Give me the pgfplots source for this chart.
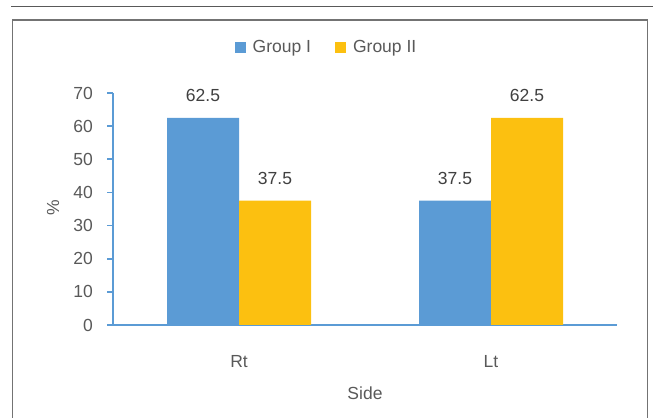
\documentclass[border=0pt]{standalone}
\usepackage{fontspec}
\setmainfont{Liberation Sans}
\usepackage{pgfplots}
\pgfplotsset{compat=1.18}
\definecolor{gblue}{HTML}{5B9BD5}
\definecolor{gyellow}{HTML}{FCC010}
\definecolor{txt}{HTML}{595959}
\definecolor{lbl}{HTML}{404040}
\newcommand{\fs}{\fontsize{17.5bp}{20bp}\selectfont}
\begin{document}
\begin{tikzpicture}
\useasboundingbox (0,0) rectangle (653bp,418bp);
% page frame
\draw[color=black!65, line width=1.6bp] (11bp,411.3bp) -- (653bp,411.3bp);
\draw[color=black!55, line width=1.3bp] (12.5bp,-5bp) -- (12.5bp,398bp) -- (647.5bp,398bp) -- (647.5bp,-5bp);
\begin{axis}[
  at={(113bp,93bp)}, anchor=south west,
  scale only axis, width=504bp, height=232bp,
  ymin=0, ymax=70, ytick={0,10,...,70},
  xmin=-0.5, xmax=1.5, xtick=data, xticklabels={Rt,Lt},
  axis x line=bottom, axis y line=left,
  axis line style={-, gblue, line width=2bp},
  xtick style={draw=none},
  ytick style={gblue, line width=1.6bp},
  tick align=outside, major tick length=6bp,
  ybar=0pt, bar width=72bp,
  /pgf/number format/assume math mode=true,
  ticklabel style={font=\fs, text=txt},
  yticklabel style={anchor=east, inner sep=0pt, xshift=-14bp},
  xticklabel style={anchor=north, inner sep=0pt, yshift=-24bp},
  xlabel={Side}, ylabel={\%},
  label style={font=\fs, text=txt},
  xlabel style={at={(axis description cs:0.5,0)}, anchor=center, yshift=-68bp},
  ylabel style={at={(axis description cs:-0.119,0.504)}, anchor=center},
  nodes near coords,
  nodes near coords style={font=\fs, text=lbl, anchor=south, inner sep=0pt, yshift=15.5bp},
  legend columns=2,
  legend style={at={(axis description cs:0.4236,1.198)}, anchor=center, draw=none,
    font=\fs, text=txt, column sep=0bp,
    /tikz/every even column/.append style={column sep=22bp}},
  legend image code/.code={\fill[#1] (0bp,-5.5bp) rectangle (11bp,5.5bp); \path (16bp,0bp);},
]
\addplot[fill=gblue, draw=none] coordinates {(0,62.5) (1,37.5)};
\addplot[fill=gyellow, draw=none] coordinates {(0,37.5) (1,62.5)};
\legend{Group I, Group II}
\draw[gblue, line width=2bp] (rel axis cs:0,0) -- ++(0,-82bp);
\draw[gblue, line width=2bp] (rel axis cs:1,0) -- ++(0,-82bp);
\end{axis}
\end{tikzpicture}
\end{document}
